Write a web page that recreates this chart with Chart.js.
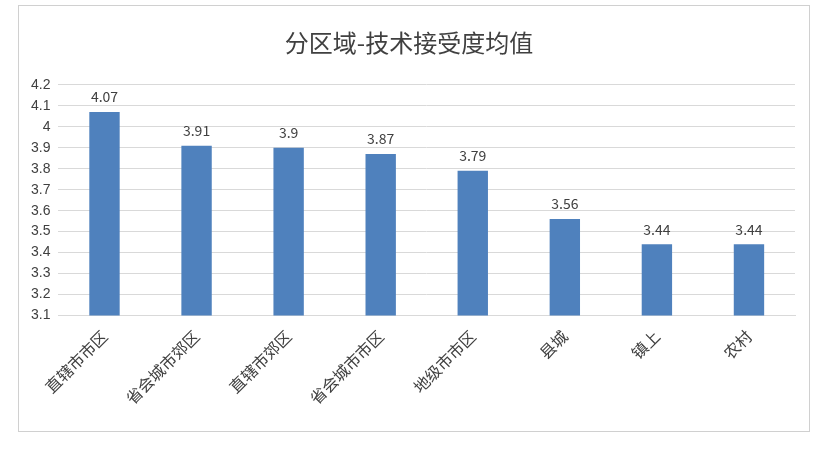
<!DOCTYPE html>
<html><head><meta charset="utf-8">
<script src="https://cdn.jsdelivr.net/npm/chart.js@4/dist/chart.umd.min.js"></script>
<style>
body{margin:0;background:#fff}
#box{position:absolute;left:18px;top:5px;width:792px;height:427px;border:1px solid #d0d0d0;box-sizing:border-box}
</style></head><body>
<div id="box"><canvas id="c"></canvas></div>
<script>
const categories = ['直辖市市区','省会城市郊区','直辖市郊区','省会城市市区','地级市市区','县城','镇上','农村'];
const values = [4.07, 3.91, 3.9, 3.87, 3.79, 3.56, 3.44, 3.44];

const valueLabels = {
  id: 'valueLabels',
  afterDatasetsDraw(chart) {
    const ctx = chart.ctx;
    ctx.save();
    ctx.font = '14px "Noto Sans CJK SC", sans-serif';
    ctx.fillStyle = '#404040';
    ctx.textAlign = 'center';
    ctx.textBaseline = 'bottom';
    chart.getDatasetMeta(0).data.forEach((bar, i) => {
      ctx.fillText(String(values[i]), bar.x, bar.y - 8);
    });
    ctx.restore();
  }
};

new Chart(document.getElementById('c'), {
  type: 'bar',
  data: {
    labels: categories,
    datasets: [{ data: values, backgroundColor: '#4f81bd', barPercentage: 0.33, categoryPercentage: 1 }]
  },
  options: {
    responsive: true,
    maintainAspectRatio: false,
    animation: false,
    layout: { padding: { left: 4, right: 14, top: 4, bottom: 20 } },
    plugins: {
      legend: { display: false },
      tooltip: { enabled: false },
      title: {
        display: true,
        text: '分区域-技术接受度均值',
        color: '#404040',
        font: { size: 24, family: '"Noto Sans CJK SC", sans-serif', weight: 'normal' },
        padding: { top: 18, bottom: 28 }
      }
    },
    scales: {
      y: {
        min: 3.1, max: 4.2,
        ticks: { stepSize: 0.1, color: '#404040', font: { size: 14 }, padding: 8, callback: v => Math.round(v * 10) / 10 },
        grid: { color: '#d9d9d9', drawTicks: false },
        border: { display: false }
      },
      x: {
        ticks: { color: '#404040', font: { size: 16, family: '"Noto Sans CJK SC", sans-serif' }, maxRotation: 45, minRotation: 45 },
        grid: { display: false },
        border: { color: '#d9d9d9' }
      }
    }
  },
  plugins: [valueLabels]
});
</script>
</body></html>
